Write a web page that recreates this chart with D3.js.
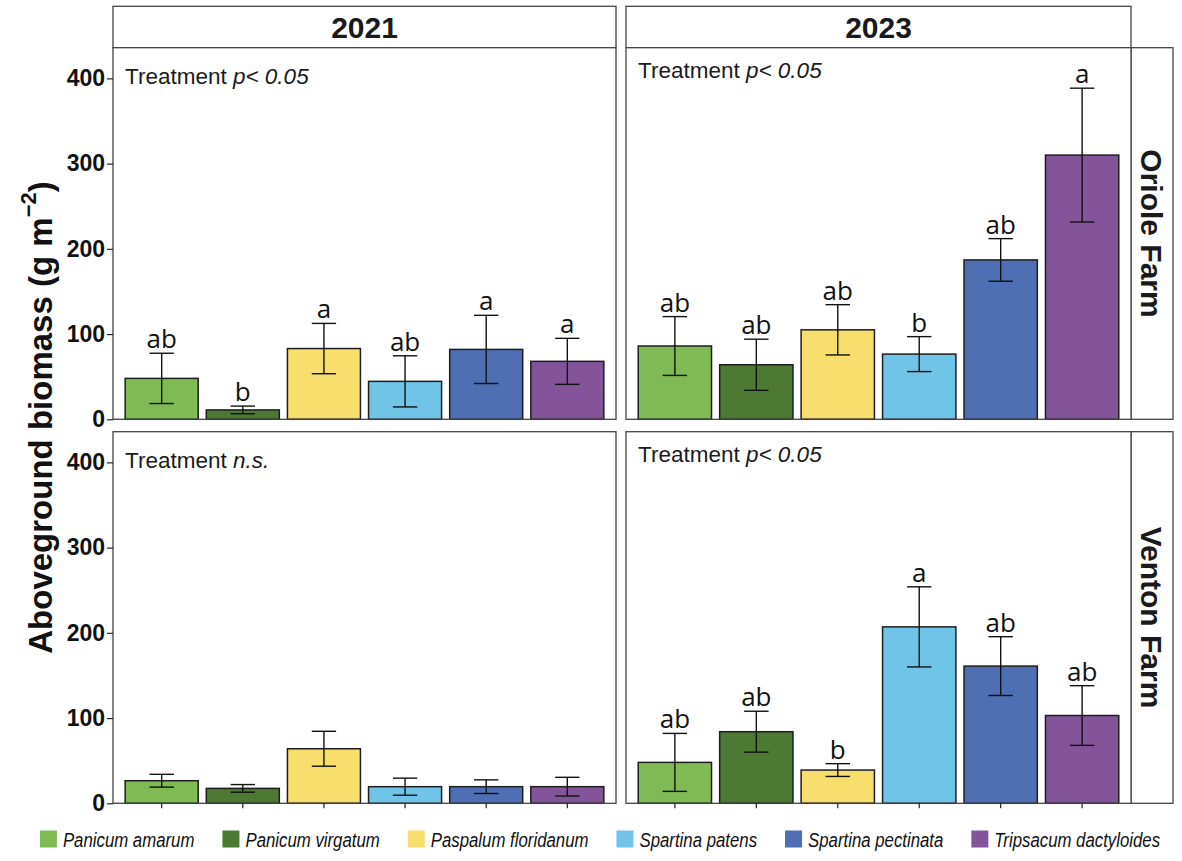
<!DOCTYPE html>
<html>
<head>
<meta charset="utf-8">
<script src="https://cdn.jsdelivr.net/npm/d3@7"></script>
<style>
  html, body { margin: 0; padding: 0; background: #fff; }
  svg { display: block; }
</style>
</head>
<body>
<svg id="chart" width="1182" height="861"></svg>
<script>
// Species (x categories) and their fill colours
const species = ["Panicum amarum", "Panicum virgatum", "Paspalum floridanum",
                 "Spartina patens", "Spartina pectinata", "Tripsacum dactyloides"];
const speciesColors = ["#7fba55", "#4c7a33", "#f8de6d", "#70c4e8", "#4e6fb3", "#84549b"];

// Facet labels
const years = ["2021", "2023"];
const farms = ["Oriole Farm", "Venton Farm"];

// Mean aboveground biomass (g m^-2) and standard errors per facet
const oriole2021Mean = [48, 11, 83, 44.5, 82, 68];
const oriole2021Se   = [29.5, 4.5, 29.5, 30, 40, 27];
const oriole2021Letters = ["ab", "b", "a", "ab", "a", "a"];

const oriole2023Mean = [86, 64, 105, 76.5, 187, 310];
const oriole2023Se   = [34.5, 30, 29.5, 20.5, 25, 78.5];
const oriole2023Letters = ["ab", "ab", "ab", "b", "ab", "a"];

const venton2021Mean = [26.5, 17.5, 64, 19.5, 19.5, 19.5];
const venton2021Se   = [7.5, 4.5, 20.5, 10, 8, 11];
const venton2021Letters = ["", "", "", "", "", ""];

const venton2023Mean = [48, 84, 39, 207, 161, 103];
const venton2023Se   = [34, 24, 7.5, 47, 34.5, 35];
const venton2023Letters = ["ab", "ab", "b", "a", "ab", "ab"];

// Treatment significance note per facet
const treatmentNotes = [["p< 0.05", "p< 0.05"], ["n.s.", "p< 0.05"]];

// Y axis
const yTicks = [0, 100, 200, 300, 400];
const yMax = 436;

// Facet table built from the arrays above
const facets = [
  { row: 0, col: 0, mean: oriole2021Mean, se: oriole2021Se, letters: oriole2021Letters },
  { row: 0, col: 1, mean: oriole2023Mean, se: oriole2023Se, letters: oriole2023Letters },
  { row: 1, col: 0, mean: venton2021Mean, se: venton2021Se, letters: venton2021Letters },
  { row: 1, col: 1, mean: venton2023Mean, se: venton2023Se, letters: venton2023Letters }
];

const svg = d3.select("#chart");

// Panel geometry
const colX = [[113, 616], [626, 1131]];
const rowY = [[47.7, 419.3], [431.7, 803.3]];
const stripTop = 6.3;
const stripRight = 1173;
const borderColor = "#444";
const noteY = [[393, 401], [393, 401]];

const fontMain = "'Liberation Sans', Arial, Helvetica, sans-serif";
const fontLetters = "'Open Sans', 'DejaVu Sans', sans-serif";

// Column strips (years)
years.forEach((yr, c) => {
  const [x0, x1] = colX[c];
  svg.append("rect")
    .attr("x", x0).attr("y", stripTop)
    .attr("width", x1 - x0).attr("height", rowY[0][0] - stripTop)
    .attr("fill", "#fff").attr("stroke", borderColor).attr("stroke-width", 1.3);
  svg.append("text")
    .attr("x", (x0 + x1) / 2).attr("y", (stripTop + rowY[0][0]) / 2)
    .attr("dy", "0.36em")
    .attr("text-anchor", "middle")
    .attr("font-family", fontMain).attr("font-weight", "bold").attr("font-size", 30)
    .attr("fill", "#1a1a1a")
    .text(yr);
});

// Row strips (farms)
farms.forEach((farm, r) => {
  const [y0, y1] = rowY[r];
  const x0 = colX[1][1];
  svg.append("rect")
    .attr("x", x0).attr("y", y0)
    .attr("width", stripRight - x0).attr("height", y1 - y0)
    .attr("fill", "#fff").attr("stroke", borderColor).attr("stroke-width", 1.3);
  const cx = (x0 + stripRight) / 2, cy = (y0 + y1) / 2;
  svg.append("text")
    .attr("transform", `translate(${cx},${cy}) rotate(90)`)
    .attr("dy", "0.36em")
    .attr("text-anchor", "middle")
    .attr("font-family", fontMain).attr("font-weight", "bold").attr("font-size", 30)
    .attr("fill", "#1a1a1a")
    .text(farm);
});

// Panels
facets.forEach(f => {
  const [x0, x1] = colX[f.col];
  const [y0, y1] = rowY[f.row];

  const x = d3.scaleBand().domain(species).range([x0, x1])
    .paddingInner(0.1).paddingOuter(0.15);
  const y = d3.scaleLinear().domain([0, yMax]).range([y1, y0]);

  const g = svg.append("g");

  g.append("rect")
    .attr("x", x0).attr("y", y0).attr("width", x1 - x0).attr("height", y1 - y0)
    .attr("fill", "#fff");

  const rows = species.map((s, i) => ({ s, m: f.mean[i], se: f.se[i], l: f.letters[i], c: speciesColors[i] }));

  // bars
  g.selectAll("rect.bar").data(rows).join("rect")
    .attr("class", "bar")
    .attr("x", d => x(d.s))
    .attr("y", d => y(d.m))
    .attr("width", x.bandwidth())
    .attr("height", d => y(0) - y(d.m))
    .attr("fill", d => d.c)
    .attr("stroke", "#1e1e1e").attr("stroke-width", 1.5);

  // error bars (whiskers 0.3 of a category unit wide)
  const half = x.step() * 0.3 / 2;
  const cxOf = d => x(d.s) + x.bandwidth() / 2;
  const lo = d => y(Math.max(0, d.m - d.se));
  const hi = d => y(d.m + d.se);
  const eb = g.selectAll("g.eb").data(rows).join("g").attr("class", "eb")
    .attr("stroke", "#111").attr("stroke-width", 1.4);
  eb.append("line")
    .attr("x1", cxOf).attr("x2", cxOf)
    .attr("y1", hi).attr("y2", lo);
  eb.append("line")
    .attr("x1", d => cxOf(d) - half).attr("x2", d => cxOf(d) + half)
    .attr("y1", hi).attr("y2", hi);
  eb.append("line")
    .attr("x1", d => cxOf(d) - half).attr("x2", d => cxOf(d) + half)
    .attr("y1", lo).attr("y2", lo);

  // significance letters
  g.selectAll("text.letter").data(rows.filter(d => d.l)).join("text")
    .attr("class", "letter")
    .attr("x", cxOf)
    .attr("y", d => hi(d) - 5)
    .attr("text-anchor", "middle")
    .attr("font-family", fontLetters).attr("font-size", 26)
    .attr("fill", "#111")
    .text(d => d.l);

  // treatment note
  const note = g.append("text")
    .attr("x", x0 + 12).attr("y", y(noteY[f.row][f.col]))
    .attr("font-family", fontMain).attr("font-size", 22.5).attr("fill", "#1a1a1a");
  note.append("tspan").text("Treatment ");
  note.append("tspan").attr("font-style", "italic").text(treatmentNotes[f.row][f.col]);

  // border
  g.append("rect")
    .attr("x", x0).attr("y", y0).attr("width", x1 - x0).attr("height", y1 - y0)
    .attr("fill", "none").attr("stroke", borderColor).attr("stroke-width", 1.3);

  // y axis on left column
  if (f.col === 0) {
    const ax = g.append("g").attr("transform", `translate(${x0},0)`)
      .call(d3.axisLeft(y).tickValues(yTicks).tickSize(6).tickPadding(2));
    ax.select(".domain").remove();
    ax.selectAll(".tick line").attr("stroke", "#222").attr("stroke-width", 1.2);
    ax.selectAll(".tick text")
      .attr("font-family", fontMain).attr("font-weight", "bold").attr("font-size", 23)
      .attr("fill", "#111");
  }

  // x ticks on bottom row
  if (f.row === 1) {
    const ax = g.append("g").attr("transform", `translate(0,${y1})`)
      .call(d3.axisBottom(x).tickSize(5).tickFormat(""));
    ax.select(".domain").remove();
    ax.selectAll(".tick line").attr("stroke", "#222").attr("stroke-width", 1.2);
  }
});

// Y axis title
svg.append("text")
  .attr("transform", `translate(40,${(rowY[0][0] + rowY[1][1]) / 2 - 8}) rotate(-90)`)
  .attr("text-anchor", "middle")
  .attr("dy", "0.36em")
  .attr("font-family", fontMain).attr("font-weight", "bold").attr("font-size", 33)
  .attr("fill", "#111")
  .call(t => {
    t.append("tspan").text("Aboveground biomass (g m");
    t.append("tspan").attr("font-size", 22).attr("dy", "-0.7em").text("\u22122");
    t.append("tspan").attr("dy", "0.48em").text(")");
  });

// Legend: condensed italic labels next to colour keys
const legend = svg.append("g");
const sw = 17, gapText = 6, gapItem = 28, squeeze = 0.8;
const items = legend.selectAll("g").data(species).join("g");
items.append("rect")
  .attr("width", sw).attr("height", sw).attr("y", -sw / 2)
  .attr("fill", (d, i) => speciesColors[i]);
items.append("text")
  .attr("transform", `translate(${sw + gapText},0) scale(${squeeze},1)`)
  .attr("dy", "0.36em")
  .attr("font-family", fontMain).attr("font-style", "italic").attr("font-size", 21)
  .attr("fill", "#111")
  .text(d => d);
let cursor = 0;
const offsets = [];
items.each(function () {
  offsets.push(cursor);
  const w = this.querySelector("text").getComputedTextLength() * squeeze;
  cursor += sw + gapText + w + gapItem;
});
const totalW = cursor - gapItem;
const startX = 600 - totalW / 2;
items.attr("transform", (d, i) => `translate(${startX + offsets[i]},839)`);
</script>
</body>
</html>
